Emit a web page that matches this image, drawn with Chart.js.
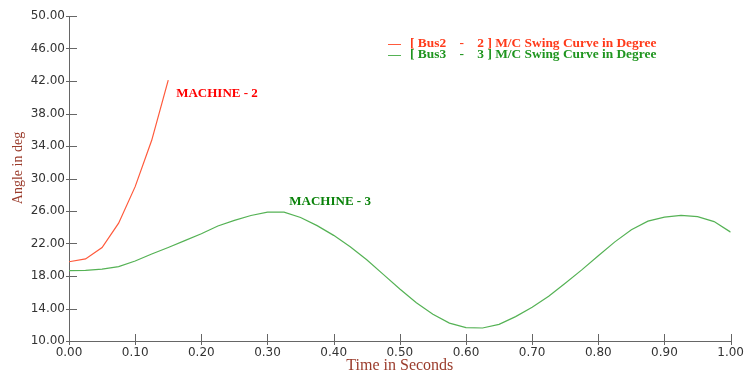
<!DOCTYPE html>
<html>
<head>
<meta charset="utf-8">
<script src="https://cdn.jsdelivr.net/npm/chart.js@4.4.0/dist/chart.umd.min.js"></script>
<style>
    html, body { margin: 0; padding: 0; background: #fff; }
    #wrap { width: 749px; height: 370px; }
</style>
</head>
<body>
<div id="wrap"><canvas id="swing_chart"></canvas></div>
<script>
// time in seconds, one sample every 0.025 s
var times = [0.000, 0.025, 0.050, 0.075, 0.100, 0.125, 0.150, 0.175, 0.200, 0.225,
             0.250, 0.275, 0.300, 0.325, 0.350, 0.375, 0.400, 0.425, 0.450, 0.475,
             0.500, 0.525, 0.550, 0.575, 0.600, 0.625, 0.650, 0.675, 0.700, 0.725,
             0.750, 0.775, 0.800, 0.825, 0.850, 0.875, 0.900, 0.925, 0.950, 0.975, 1.000];

// machine 2 loses synchronism, curve stops after 0.15 s
var bus2 = [19.75, 20.1, 21.5, 24.5, 29.0, 34.7, 42.1];

var bus3 = [18.65, 18.7, 18.85, 19.15, 19.85, 20.7, 21.5, 22.35, 23.2, 24.15,
            24.85, 25.45, 25.85, 25.85, 25.2, 24.2, 23.0, 21.6, 20.0, 18.2,
            16.4, 14.7, 13.3, 12.2, 11.65, 11.6, 12.05, 13.0, 14.15, 15.5,
            17.1, 18.75, 20.5, 22.2, 23.7, 24.75, 25.25, 25.45, 25.3, 24.7, 23.4];

var seriesNames = ["[ Bus2    -    2 ] M/C Swing Curve in Degree",
                   "[ Bus3    -    3 ] M/C Swing Curve in Degree"];

var xTickValues = [0.0, 0.1, 0.2, 0.3, 0.4, 0.5, 0.6, 0.7, 0.8, 0.9, 1.0];
var yTickValues = [10, 14, 18, 22, 26, 30, 34, 38, 42, 46, 50];

function toPoints(vals) {
    return vals.map(function(v, i) { return { x: times[i], y: v }; });
}

// where the machine labels sit, in data units
var machineLabels = [
    { text: "MACHINE - 2", t: 0.162, v: 40.5, color: "#ff0000" },
    { text: "MACHINE - 3", t: 0.333, v: 27.15, color: "#0a820a" }
];

var lineColors = ["#ff5a3c", "#55b255"];
var legendTextColors = ["#ff3a1a", "#1f951f"];

var decor = {
    id: "decor",
    beforeDatasetsDraw: function(chart) {
        let ctx = chart.ctx;
        let xs = chart.scales.x, ys = chart.scales.y;
        let a = chart.chartArea;
        ctx.save();
        ctx.strokeStyle = "#666";
        ctx.lineWidth = 1;
        ctx.beginPath();
        xTickValues.forEach(function(t) {
            let px = Math.round(xs.getPixelForValue(t)) + 0.5;
            ctx.moveTo(px, a.bottom - 7);
            ctx.lineTo(px, a.bottom + 4);
        });
        yTickValues.forEach(function(v) {
            let py = Math.round(ys.getPixelForValue(v)) + 0.5;
            ctx.moveTo(a.left - 3, py);
            ctx.lineTo(a.left + 8, py);
        });
        ctx.stroke();
        ctx.restore();
    },
    afterDraw: function(chart) {
        let ctx = chart.ctx;
        let xs = chart.scales.x, ys = chart.scales.y;
        ctx.save();

        // y axis title
        ctx.translate(18, 168);
        ctx.rotate(-Math.PI / 2);
        ctx.font = "14px 'Liberation Serif'";
        ctx.fillStyle = "#9a3b2b";
        ctx.textAlign = "center";
        ctx.textBaseline = "middle";
        ctx.fillText("Angle in deg", 0, 0);
        ctx.setTransform(1, 0, 0, 1, 0, 0);

        // legend
        ctx.font = "bold 13.4px 'Liberation Serif'";
        ctx.textAlign = "left";
        ctx.textBaseline = "middle";
        for (let i = 0; i < seriesNames.length; i++) {
            let y = 43.5 + i * 11;
            ctx.strokeStyle = lineColors[i];
            ctx.lineWidth = 1;
            ctx.beginPath();
            ctx.moveTo(388, Math.round(y) + 0.5);
            ctx.lineTo(401, Math.round(y) + 0.5);
            ctx.stroke();
            ctx.fillStyle = legendTextColors[i];
            ctx.fillText(seriesNames[i], 410, y);
        }

        // machine labels
        ctx.font = "bold 13px 'Liberation Serif'";
        machineLabels.forEach(function(m) {
            ctx.fillStyle = m.color;
            ctx.fillText(m.text, xs.getPixelForValue(m.t), ys.getPixelForValue(m.v));
        });
        ctx.restore();
    }
};

const chart = new Chart(document.getElementById("swing_chart"), {
    type: "line",
    data: {
        datasets: [{
            label: seriesNames[0],
            data: toPoints(bus2),
            borderColor: lineColors[0],
            borderWidth: 1.2,
            pointRadius: 0,
            tension: 0,
            fill: false
        }, {
            label: seriesNames[1],
            data: toPoints(bus3),
            borderColor: lineColors[1],
            borderWidth: 1.2,
            pointRadius: 0,
            tension: 0,
            fill: false
        }]
    },
    options: {
        responsive: true,
        maintainAspectRatio: false,
        animation: false,
        layout: { padding: { top: 16, right: 16, left: 0, bottom: 0 } },
        plugins: {
            legend: { display: false },
            tooltip: { enabled: false }
        },
        scales: {
            x: {
                type: "linear",
                min: 0,
                max: 1,
                afterBuildTicks: function(scale) {
                    scale.ticks = xTickValues.map(function(v) { return { value: v }; });
                },
                afterFit: function(scale) { scale.height = 29; },
                grid: { display: false, drawTicks: false },
                border: { display: true, color: "#666", width: 1 },
                ticks: {
                    padding: 5,
                    maxRotation: 0,
                    color: "#333",
                    font: { family: "'DejaVu Sans'", size: 12 },
                    callback: function(v) { return Number(v).toFixed(2); }
                },
                title: {
                    display: true,
                    text: "Time in Seconds",
                    color: "#9a3b2b",
                    padding: 0,
                    font: { family: "'Liberation Serif'", size: 16, lineHeight: "8px" }
                }
            },
            y: {
                min: 10,
                max: 50,
                afterBuildTicks: function(scale) {
                    scale.ticks = yTickValues.map(function(v) { return { value: v }; });
                },
                afterFit: function(scale) { scale.width = 69; },
                grid: { display: false, drawTicks: false },
                border: { display: true, color: "#666", width: 1 },
                ticks: {
                    padding: 4,
                    color: "#333",
                    font: { family: "'DejaVu Sans'", size: 12 },
                    callback: function(v) { return Number(v).toFixed(2); }
                }
            }
        }
    },
    plugins: [decor]
});
</script>
</body>
</html>
